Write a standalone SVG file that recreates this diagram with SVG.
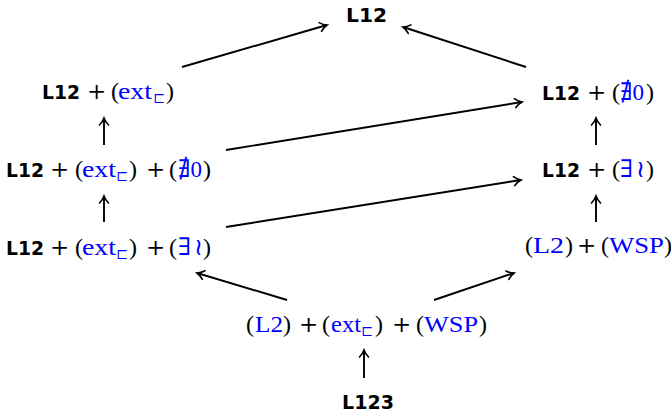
<svg xmlns="http://www.w3.org/2000/svg" width="671" height="417" viewBox="0 0 671 417">
<style>
text{font-family:"Liberation Serif","DejaVu Serif",serif;font-size:24px;fill:#000}
.b{font-family:"DejaVu Sans",sans-serif;font-weight:bold;font-size:20px}
.p{font-family:"DejaVu Serif",serif;font-size:23px}
.u{fill:#0000ff}
.sub{font-size:14px;fill:#0000ff}
.c line{stroke:#000;stroke-width:1.9;fill:none}
</style>
<defs>
<marker id="ah" markerUnits="userSpaceOnUse" viewBox="-9 -6 11 12" refX="0" refY="0" markerWidth="11" markerHeight="12" orient="auto">
<path d="M-7,-4.5 C-4.5,-2 -1.5,-0.5 0,0 C-1.5,0.5 -4.5,2 -7,4.5" fill="none" stroke="#000" stroke-width="1.6" stroke-linecap="round"/>
</marker>
</defs>
<g class="c">
<line x1="182" y1="67" x2="327" y2="25" marker-end="url(#ah)"/>
<line x1="526" y1="67" x2="403" y2="27" marker-end="url(#ah)"/>
<line x1="226" y1="150" x2="522" y2="102" marker-end="url(#ah)"/>
<line x1="226" y1="227" x2="521" y2="180" marker-end="url(#ah)"/>
<line x1="104" y1="145" x2="104" y2="118" marker-end="url(#ah)"/>
<line x1="104" y1="222" x2="104" y2="196" marker-end="url(#ah)"/>
<line x1="596" y1="145" x2="596" y2="118" marker-end="url(#ah)"/>
<line x1="596" y1="222" x2="596" y2="196" marker-end="url(#ah)"/>
<line x1="287" y1="300" x2="197" y2="273" marker-end="url(#ah)"/>
<line x1="434" y1="300" x2="514" y2="273" marker-end="url(#ah)"/>
<line x1="364" y1="378" x2="364" y2="350" marker-end="url(#ah)"/>
</g>
<g id="top"><text class="b" x="346" y="22" textLength="41" lengthAdjust="spacingAndGlyphs">L12</text></g>
<g id="left1"><text y="99"><tspan class="b" x="42" textLength="38" lengthAdjust="spacingAndGlyphs">L12</tspan><tspan class="p" x="87">+</tspan><tspan x="111">(</tspan><tspan class="u" x="118" textLength="34" lengthAdjust="spacingAndGlyphs">ext</tspan><tspan class="sub" x="153" y="103">⊏</tspan><tspan x="166" y="99">)</tspan></text></g>
<g id="left2"><text y="177"><tspan class="b" x="6" textLength="38" lengthAdjust="spacingAndGlyphs">L12</tspan><tspan class="p" x="50">+</tspan><tspan x="75">(</tspan><tspan class="u" x="82" textLength="34" lengthAdjust="spacingAndGlyphs">ext</tspan><tspan class="sub" x="116" y="181">⊏</tspan><tspan x="129" y="177">)</tspan><tspan class="p" x="146">+</tspan><tspan x="169">(</tspan><tspan class="u" x="178" textLength="24" lengthAdjust="spacingAndGlyphs">∄0</tspan><tspan x="203">)</tspan></text></g>
<g id="left3"><text y="255"><tspan class="b" x="6" textLength="38" lengthAdjust="spacingAndGlyphs">L12</tspan><tspan class="p" x="50">+</tspan><tspan x="75">(</tspan><tspan class="u" x="82" textLength="34" lengthAdjust="spacingAndGlyphs">ext</tspan><tspan class="sub" x="116" y="259">⊏</tspan><tspan x="129" y="255">)</tspan><tspan class="p" x="146">+</tspan><tspan x="169">(</tspan><tspan class="u" x="178">∃</tspan><tspan class="u" x="194">≀</tspan><tspan x="203">)</tspan></text></g>
<g id="right1"><text y="100"><tspan class="b" x="542" textLength="38" lengthAdjust="spacingAndGlyphs">L12</tspan><tspan class="p" x="587">+</tspan><tspan x="612">(</tspan><tspan class="u" x="620" textLength="24" lengthAdjust="spacingAndGlyphs">∄0</tspan><tspan x="646">)</tspan></text></g>
<g id="right2"><text y="177"><tspan class="b" x="542" textLength="38" lengthAdjust="spacingAndGlyphs">L12</tspan><tspan class="p" x="587">+</tspan><tspan x="612">(</tspan><tspan class="u" x="620">∃</tspan><tspan class="u" x="636">≀</tspan><tspan x="646">)</tspan></text></g>
<g id="right3"><text y="253"><tspan x="525">(</tspan><tspan class="u" x="533" textLength="31" lengthAdjust="spacingAndGlyphs">L2</tspan><tspan x="565">)</tspan><tspan class="p" x="577">+</tspan><tspan x="601">(</tspan><tspan class="u" x="609" textLength="55" lengthAdjust="spacingAndGlyphs">WSP</tspan><tspan x="664">)</tspan></text></g>
<g id="bottom"><text y="332"><tspan x="246">(</tspan><tspan class="u" x="255" textLength="28" lengthAdjust="spacingAndGlyphs">L2</tspan><tspan x="283">)</tspan><tspan class="p" x="299">+</tspan><tspan x="322">(</tspan><tspan class="u" x="331" textLength="30" lengthAdjust="spacingAndGlyphs">ext</tspan><tspan class="sub" x="361" y="336">⊏</tspan><tspan x="375" y="332">)</tspan><tspan class="p" x="392">+</tspan><tspan x="416">(</tspan><tspan class="u" x="424" textLength="54" lengthAdjust="spacingAndGlyphs">WSP</tspan><tspan x="479">)</tspan></text></g>
<g id="l123"><text class="b" x="342" y="409" textLength="52" lengthAdjust="spacingAndGlyphs">L123</text></g>
</svg>
